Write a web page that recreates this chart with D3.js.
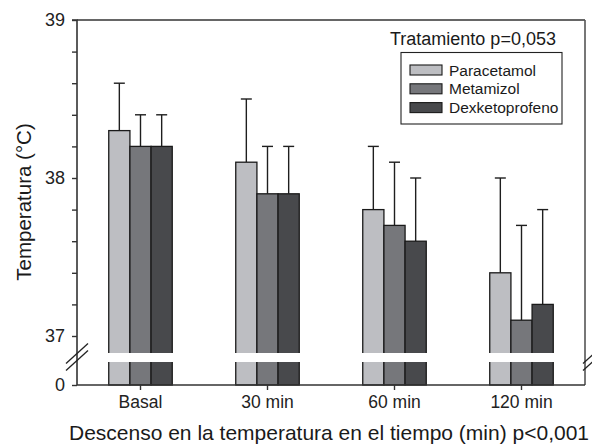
<!DOCTYPE html>
<html><head><meta charset="utf-8">
<script src="https://cdn.jsdelivr.net/npm/d3@7"></script>
<style>html,body{margin:0;padding:0;background:#fff}svg{display:block;font-family:"Liberation Sans",Arial,Helvetica,sans-serif}</style>
</head><body>
<svg id="c" width="592" height="444"></svg>
<script>
const categories = ["Basal", "30 min", "60 min", "120 min"];
const series = ["Paracetamol", "Metamizol", "Dexketoprofeno"];
const paracetamol = [38.3, 38.1, 37.8, 37.4];
const metamizol = [38.2, 37.9, 37.7, 37.1];
const dexketoprofeno = [38.2, 37.9, 37.6, 37.2];
const paracetamolErr = [0.3, 0.4, 0.4, 0.6];
const metamizolErr = [0.2, 0.3, 0.4, 0.6];
const dexketoprofenoErr = [0.2, 0.3, 0.4, 0.6];
const yMajorTicks = [0, 37, 38, 39];
const yMinorTicks = [37.2, 37.4, 37.6, 37.8, 38.2, 38.4, 38.6, 38.8];
const colors = ["#bdbec2", "#76777b", "#48494c"];

const values = [paracetamol, metamizol, dexketoprofeno];
const errs = [paracetamolErr, metamizolErr, dexketoprofenoErr];

const svg = d3.select("#c");
const L = 77, R = 585, T = 20, B = 385;

const x0 = d3.scaleBand().domain(categories).range([L, R]).paddingInner(0.5).paddingOuter(0.25);
const x1 = d3.scaleBand().domain(series).range([0, x0.bandwidth()]);
const y = d3.scaleLinear().domain([0, 37, 39]).range([B, 336, T]);

const data = [];
series.forEach((s, i) => categories.forEach((c, j) => data.push({s, c, i, v: values[i][j], e: errs[i][j]})));

const g = svg.append("g");
// error bars (drawn first so bar covers the base)
const eb = g.selectAll(".eb").data(data).enter().append("g");
eb.append("line")
  .attr("x1", d => x0(d.c) + x1(d.s) + x1.bandwidth()/2)
  .attr("x2", d => x0(d.c) + x1(d.s) + x1.bandwidth()/2)
  .attr("y1", d => y(d.v)).attr("y2", d => y(d.v + d.e))
  .attr("stroke", "#1e1e1e").attr("stroke-width", 1.4);
eb.append("line")
  .attr("x1", d => x0(d.c) + x1(d.s) + x1.bandwidth()/2 - 5.5)
  .attr("x2", d => x0(d.c) + x1(d.s) + x1.bandwidth()/2 + 5.5)
  .attr("y1", d => y(d.v + d.e)).attr("y2", d => y(d.v + d.e))
  .attr("stroke", "#1e1e1e").attr("stroke-width", 1.4);

g.selectAll(".bar").data(data).enter().append("rect")
  .attr("x", d => x0(d.c) + x1(d.s))
  .attr("width", x1.bandwidth())
  .attr("y", d => y(d.v))
  .attr("height", d => y(0) - y(d.v))
  .attr("fill", d => colors[d.i])
  .attr("stroke", "#1a1a1a").attr("stroke-width", 1.3);

// axis break band
svg.append("rect").attr("x", L + 1).attr("width", R - L - 2)
  .attr("y", 353).attr("height", 9).attr("fill", "#fff");

// frame
svg.append("line").attr("x1", L).attr("x2", R).attr("y1", T).attr("y2", T).attr("stroke", "#333").attr("stroke-width", 1.4);
svg.append("line").attr("x1", R).attr("x2", R).attr("y1", T).attr("y2", B).attr("stroke", "#555").attr("stroke-width", 1.6);

// y axis
const yAxis = d3.axisLeft(y).tickValues(yMajorTicks.concat(yMinorTicks)).tickSize(5).tickPadding(7)
  .tickFormat(d => yMajorTicks.includes(d) ? d3.format("d")(d) : "");
const ya = svg.append("g").attr("transform", `translate(${L},0)`).call(yAxis);
ya.select(".domain").attr("stroke", "#333").attr("stroke-width", 1.6).attr("d", `M-5,${T}H0V${B}`);
ya.selectAll(".tick line").attr("stroke", "#333").attr("stroke-width", 1.4);
ya.selectAll("text").attr("font-size", 18).attr("fill", "#222").attr("font-family", "Liberation Sans, Arial, sans-serif");

// x axis
const xAxis = d3.axisBottom(x0).tickSize(5).tickPadding(6);
const xa = svg.append("g").attr("transform", `translate(0,${B})`).call(xAxis);
xa.select(".domain").attr("stroke", "#333").attr("stroke-width", 1.6).attr("d", `M${L},0H${R}`);
xa.selectAll(".tick line").attr("stroke", "#333").attr("stroke-width", 1.4);
xa.selectAll("text").attr("font-size", 17.5).attr("fill", "#222").attr("font-family", "Liberation Sans, Arial, sans-serif");

// break marks
const brk = [[66, 363.5, 88, 343.5], [66, 370.5, 88, 350.5], [583, 363.5, 594, 353.5], [583, 370.5, 594, 360.5]];
svg.selectAll(".brk").data(brk).enter().append("line")
  .attr("x1", d => d[0]).attr("y1", d => d[1]).attr("x2", d => d[2]).attr("y2", d => d[3])
  .attr("stroke", "#222").attr("stroke-width", 1.3);

// titles
svg.append("text").attr("x", 329).attr("y", 440).attr("text-anchor", "middle")
  .attr("font-size", 21).attr("fill", "#1a1a1a")
  .text("Descenso en la temperatura en el tiempo (min) p<0,001");
svg.append("text").attr("transform", "translate(31,202) rotate(-90)").attr("text-anchor", "middle")
  .attr("font-size", 20.5).attr("fill", "#1a1a1a").text("Temperatura (°C)");

// legend
svg.append("text").attr("x", 390).attr("y", 45).attr("font-size", 18).attr("fill", "#1a1a1a").text("Tratamiento p=0,053");
svg.append("rect").attr("x", 401).attr("y", 52.5).attr("width", 161).attr("height", 71.5)
  .attr("fill", "#fff").attr("stroke", "#222").attr("stroke-width", 1.1);
const lg = svg.selectAll(".lg").data(series).enter().append("g")
  .attr("transform", (d, i) => `translate(410,${65 + i * 18.8})`);
lg.append("rect").attr("width", 32).attr("height", 10).attr("fill", (d, i) => colors[i])
  .attr("stroke", "#1a1a1a").attr("stroke-width", 1.1);
lg.append("text").attr("x", 39).attr("y", 10.5).attr("font-size", 15.5).attr("fill", "#1a1a1a").text(d => d);
</script>
</body></html>
